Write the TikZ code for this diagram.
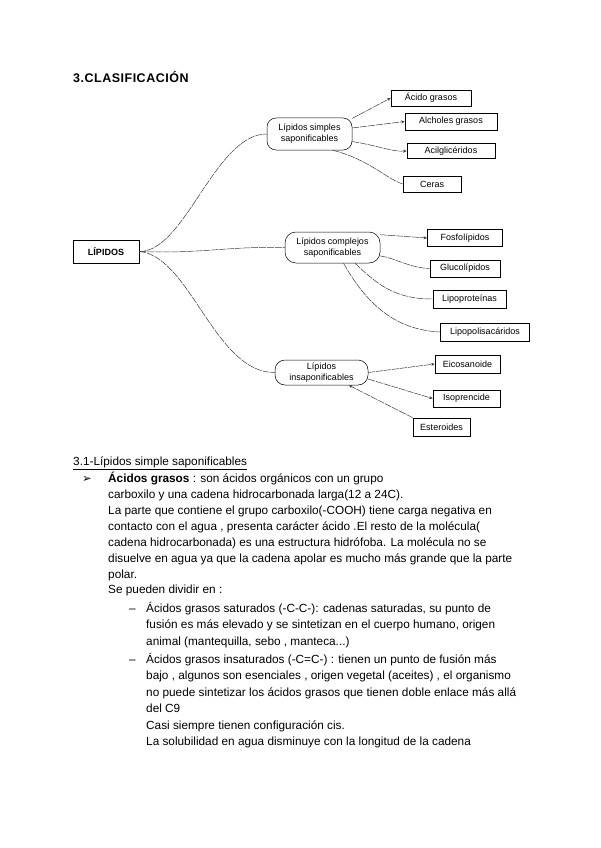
\documentclass[tikz,border=0pt]{standalone}
\usepackage{fontspec}
\setmainfont{Liberation Sans}
\newfontfamily\dejavu{DejaVu Sans}
\usetikzlibrary{arrows.meta}
\begin{document}
\begin{tikzpicture}[x=1pt,y=-1pt,
  box/.style={draw=black, line width=0.7pt, fill=white, inner sep=0pt, font=\fontsize{9}{10}\selectfont},
  cat/.style={draw=black, line width=0.5pt, rounded corners=9pt, inner sep=0pt, align=center, font=\fontsize{9}{11}\selectfont},
  conn/.style={draw=gray!45!black, line width=0.5pt, dash pattern=on 7pt off 1pt},
  tip/.style={-{Stealth[length=3.5pt,width=3pt]}},
  body/.style={anchor=base west, inner sep=0pt, font=\fontsize{11.8}{14}\selectfont},
]
\useasboundingbox (0,0) rectangle (600,848);
\fill[white] (0,0) rectangle (600,848);

\node[anchor=base west, inner sep=0pt, font=\bfseries\fontsize{12.5}{14}\selectfont\addfontfeature{LetterSpace=4}] (title) at (73,83) {3.CLASIFICACIÓN};

% main node
\node[box, minimum width=66pt, minimum height=23pt, font=\bfseries\fontsize{9}{10}\selectfont] (lip) at (106,251.5) {LÍPIDOS};

% categories
\node[cat, minimum width=85pt, minimum height=32pt] (simple) at (309.5,134) {Lípidos simples\\saponificables};
\node[cat, minimum width=95pt, minimum height=31pt, rounded corners=11pt] (complex) at (332.5,247.5) {Lípidos complejos\\saponificables};
\node[cat, minimum width=93pt, minimum height=25pt, rounded corners=10pt, font=\fontsize{9}{10.5}\selectfont] (insap) at (321.5,372.5) {Lípidos\\insaponificables};

% simple children
\node[box, minimum width=80pt, minimum height=16pt] (acido) at (431,98) {Ácido grasos};
\node[box, minimum width=92pt, minimum height=17pt] (alch) at (451,121.5) {Alcholes grasos};
\node[box, minimum width=88pt, minimum height=15pt] (acil) at (451,151) {Acilglicéridos};
\node[box, minimum width=58pt, minimum height=16pt] (ceras) at (432,184) {Ceras};

% complex children
\node[box, minimum width=75pt, minimum height=17pt] (fosfo) at (465,238) {Fosfolípidos};
\node[box, minimum width=70pt, minimum height=17pt] (gluco) at (465,268.5) {Glucolípidos};
\node[box, minimum width=73pt, minimum height=18pt] (lipopro) at (469.5,299) {Lipoproteínas};
\node[box, minimum width=89pt, minimum height=18pt] (lipopol) at (485,332) {Lipopolisacáridos};

% insap children
\node[box, minimum width=65pt, minimum height=18pt] (eico) at (467.5,364) {Eicosanoide};
\node[box, minimum width=67pt, minimum height=17pt] (iso) at (466.5,398.5) {Isoprencide};
\node[box, minimum width=57pt, minimum height=18pt] (este) at (441.5,427) {Esteroides};

% connectors from LIPIDOS
\draw[conn] (lip.east) .. controls (185,252) and (215,134) .. (simple.west);
\draw[conn] (lip.east) .. controls (200,254) and (230,246) .. (complex.west);
\draw[conn] (lip.east) .. controls (190,256) and (215,373) .. (insap.west);

% simple connectors
\draw[conn,tip] (simple.20) -- (acido.west);
\draw[conn,tip] (simple.8) -- (alch.west);
\draw[conn,tip] (simple.-10) .. controls (380,146) and (392,152) .. (acil.west);
\draw[conn] (simple.-35) .. controls (370,160) and (385,178) .. (ceras.west);

% complex connectors
\draw[conn,tip] (complex.15) -- (fosfo.west);
\draw[conn] (complex.-10) .. controls (395,258) and (410,268) .. (gluco.west);
\draw[conn] (complex.-35) .. controls (378,285) and (395,299) .. (lipopro.west);
\draw[conn] (complex.-55) .. controls (370,310) and (400,330) .. (lipopol.west);

% insap connectors
\draw[conn,tip] (insap.east) -- (eico.west);
\draw[conn,tip] (insap.-8) -- (iso.west);
\draw[conn,tip] (este.north west) -- (insap.-25);

% text section
\node[body] (h31) at (73,465) {\underline{3.1-Lípidos simple saponificables}};
\node[body] (bul) at (82,482) {\dejavu\fontsize{11.5}{12}\selectfont ➢};
\node[body] (l1) at (108,482) {\textbf{Ácidos grasos} : son ácidos orgánicos con un grupo};
\node[body] (l2) at (108,498) {carboxilo y una cadena hidrocarbonada larga(12 a 24C).};
\node[body] (l3) at (108,514) {La parte que contiene el grupo carboxilo(-COOH) tiene carga negativa en};
\node[body] (l4) at (108,530) {contacto con el agua , presenta carácter ácido .El resto de la molécula(};
\node[body] (l5) at (108,546) {cadena hidrocarbonada) es una estructura hidrófoba. La molécula no se};
\node[body] (l6) at (108,562) {disuelve en agua ya que la cadena apolar es mucho más grande que la parte};
\node[body] (l7) at (108,578) {polar.};
\node[body] (l8) at (108,593) {Se pueden dividir en :};
\node[body] (d1) at (129,612) {–};
\node[body] (l9) at (146,612) {Ácidos grasos saturados (-C-C-): cadenas saturadas, su punto de};
\node[body] (l10) at (146,628) {fusión es más elevado y se sintetizan en el cuerpo humano, origen};
\node[body] (l11) at (146,645) {animal (mantequilla, sebo , manteca...)};
\node[body] (d2) at (129,663) {–};
\node[body] (l12) at (146,663) {Ácidos grasos insaturados (-C=C-) : tienen un punto de fusión más};
\node[body] (l13) at (146,679) {bajo , algunos son esenciales , origen vegetal (aceites) , el organismo};
\node[body] (l14) at (146,696) {no puede sintetizar los ácidos grasos que tienen doble enlace más allá};
\node[body] (l15) at (146,712) {del C9};
\node[body] (l16) at (146,729) {Casi siempre tienen configuración cis.};
\node[body] (l17) at (146,745) {La solubilidad en agua disminuye con la longitud de la cadena};
\end{tikzpicture}
\end{document}
